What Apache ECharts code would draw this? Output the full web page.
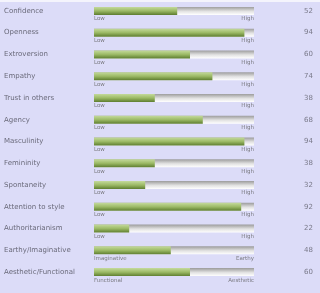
<!DOCTYPE html>
<html>
<head>
<meta charset="utf-8">
<script src="https://cdn.jsdelivr.net/npm/echarts@6/dist/echarts.min.js"></script>
<style>
    html, body { margin: 0; padding: 0; background: #dcdcf8; }
    #chart { width: 320px; height: 293px; }
</style>
</head>
<body>
<div id="chart"></div>
<script>
var traits = ['Confidence', 'Openness', 'Extroversion', 'Empathy', 'Trust in others', 'Agency', 'Masculinity',
    'Femininity', 'Spontaneity', 'Attention to style', 'Authoritarianism', 'Earthy/Imaginative', 'Aesthetic/Functional'];
var scores = [52, 94, 60, 74, 38, 68, 94, 38, 32, 92, 22, 48, 60];
var lowLabels = ['Low', 'Low', 'Low', 'Low', 'Low', 'Low', 'Low', 'Low', 'Low', 'Low', 'Low', 'Imaginative', 'Functional'];
var highLabels = ['High', 'High', 'High', 'High', 'High', 'High', 'High', 'High', 'High', 'High', 'High', 'Earthy', 'Aesthetic'];
var fullScale = 100;

var dom = document.getElementById('chart');
var myChart = echarts.init(dom);
var font = 'DejaVu Sans';

var fullData = traits.map(function () { return fullScale; });

var option = {
    backgroundColor: '#dcdcf8',
    animation: false,
    graphic: [{
        type: 'rect',
        shape: { x: 0, y: 0, width: 320, height: 2 },
        style: { fill: '#f4f4fc' }
    }],
    grid: { left: 94, right: 66, top: -2, height: 285 },
    xAxis: { type: 'value', min: 0, max: fullScale, show: false },
    yAxis: [{
        type: 'category',
        inverse: true,
        data: traits,
        axisLine: { show: false },
        axisTick: { show: false },
        axisLabel: { align: 'left', margin: 90, color: '#6a6a7a', fontSize: 7, fontFamily: font }
    }, {
        type: 'category',
        inverse: true,
        position: 'right',
        data: scores.map(String),
        axisLine: { show: false },
        axisTick: { show: false },
        axisLabel: { align: 'right', margin: 59, color: '#7a7a8a', fontSize: 7, fontFamily: font }
    }],
    series: [{
        type: 'bar',
        barWidth: 8,
        barGap: '-100%',
        silent: true,
        data: fullData,
        itemStyle: {
            color: new echarts.graphic.LinearGradient(0, 0, 0, 1, [
                { offset: 0, color: '#9c9c9c' },
                { offset: 0.55, color: '#e2e2e2' },
                { offset: 1, color: '#ffffff' }
            ])
        },
        label: {
            show: true,
            position: [0, 9],
            align: 'left',
            verticalAlign: 'top',
            fontSize: 5.5,
            fontFamily: font,
            color: '#7a7a80',
            formatter: function (p) { return lowLabels[p.dataIndex]; }
        }
    }, {
        type: 'bar',
        barWidth: 8,
        barGap: '-100%',
        data: scores,
        itemStyle: {
            color: new echarts.graphic.LinearGradient(0, 0, 0, 1, [
                { offset: 0, color: '#c4da9c' },
                { offset: 0.5, color: '#9cba66' },
                { offset: 1, color: '#5e7e30' }
            ])
        }
    }, {
        type: 'bar',
        barWidth: 8,
        barGap: '-100%',
        silent: true,
        data: fullData,
        itemStyle: { color: 'rgba(0,0,0,0)' },
        label: {
            show: true,
            position: ['100%', 9],
            align: 'right',
            verticalAlign: 'top',
            fontSize: 5.5,
            fontFamily: font,
            color: '#7a7a80',
            formatter: function (p) { return highLabels[p.dataIndex]; }
        }
    }]
};
myChart.setOption(option, true);
</script>
</body>
</html>
